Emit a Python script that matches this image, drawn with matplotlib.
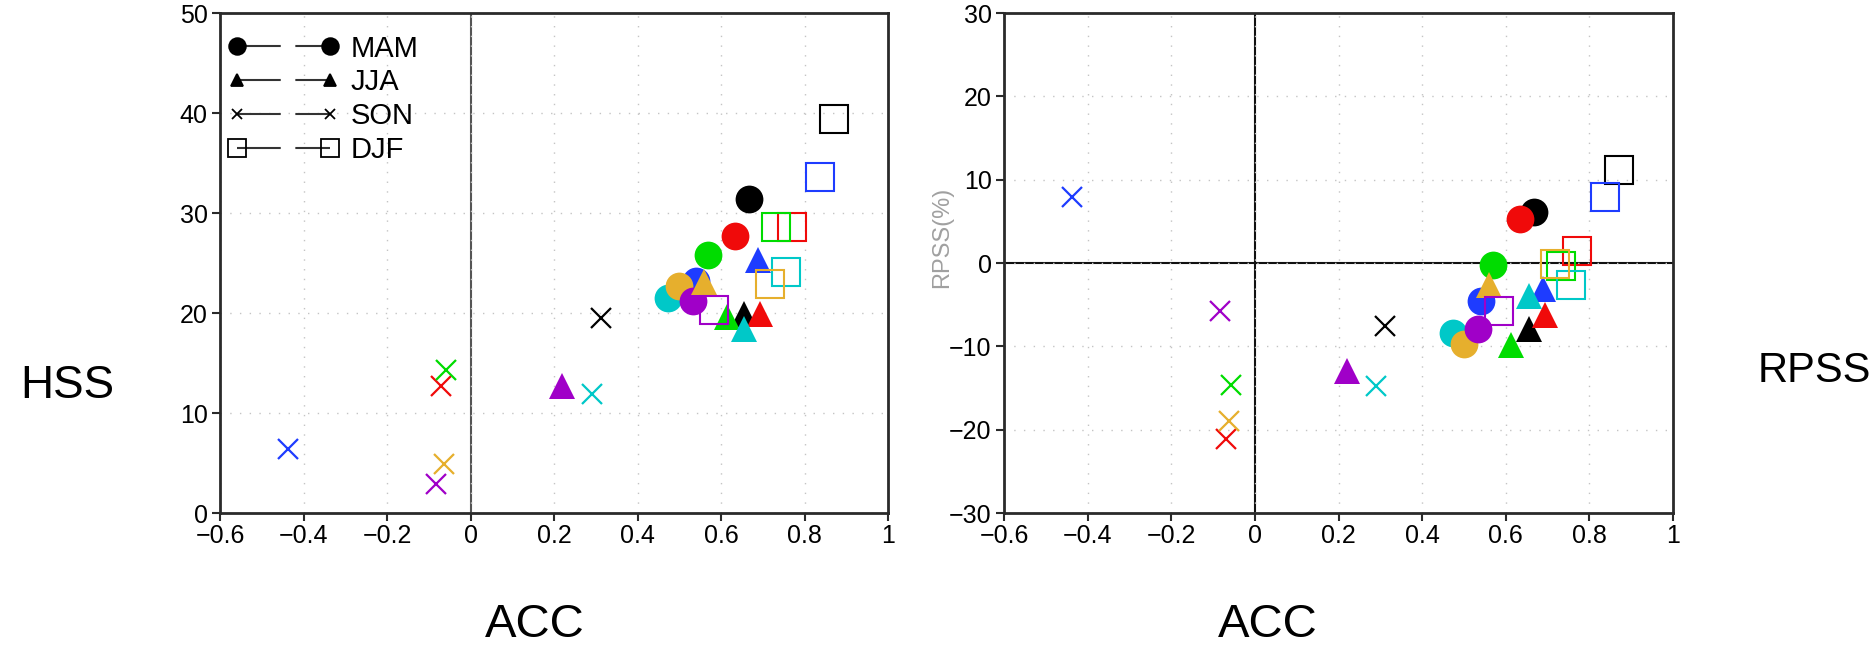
import matplotlib
matplotlib.use('Agg')
import matplotlib.pyplot as plt
from matplotlib.lines import Line2D

plt.rcParams.update({
    'font.family': ['Liberation Sans', 'DejaVu Sans'],
    'axes.unicode_minus': True,
})

# model colours (same order in every array below)
COLORS = ['#000000', '#f00a0a', '#00dc00', '#1e3cff', '#00c8c8', '#e6af2d', '#a000c8']

# ACC per season (shared by both panels)
acc_mam = [0.667, 0.634, 0.569, 0.540, 0.473, 0.500, 0.533]
acc_jja = [0.656, 0.693, 0.613, 0.688, 0.655, 0.560, 0.220]
acc_son = [0.312, -0.070, -0.058, -0.438, 0.290, -0.063, -0.083]
acc_djf = [0.870, 0.770, 0.732, 0.837, 0.755, 0.718, 0.584]

# HSS (left panel)
hss_mam = [31.4, 27.7, 25.8, 23.2, 21.5, 22.7, 21.2]
hss_jja = [19.9, 19.9, 19.6, 25.3, 18.4, 23.1, 12.7]
hss_son = [19.5, 12.7, 14.3, 6.4, 11.9, 4.9, 2.9]
hss_djf = [39.4, 28.6, 28.6, 33.6, 24.1, 22.9, 20.3]

# RPSS (right panel)
rpss_mam = [6.1, 5.3, -0.2, -4.6, -8.4, -9.7, -7.9]
rpss_jja = [-7.9, -6.2, -9.8, -3.1, -4.0, -2.6, -13.0]
rpss_son = [-7.6, -21.1, -14.6, 7.9, -14.7, -18.9, -5.8]
rpss_djf = [11.2, 1.4, -0.3, 7.9, -2.6, -0.1, -5.7]

seasons = ['MAM', 'JJA', 'SON', 'DJF']
xticks = [-0.6, -0.4, -0.2, 0, 0.2, 0.4, 0.6, 0.8, 1]
xticklabels = ['\u22120.6', '\u22120.4', '\u22120.2', '0', '0.2', '0.4', '0.6', '0.8', '1']


def draw_points(ax, accs, vals):
    # circles, triangles, crosses, hollow squares
    for i, c in enumerate(COLORS):
        ax.plot(accs[0][i], vals[0][i], marker='o', ms=20, color=c, mew=0, ls='none', zorder=3)
    for i, c in enumerate(COLORS):
        ax.plot(accs[1][i], vals[1][i], marker='^', ms=18.5, color=c, mew=0, ls='none', zorder=3)
    for i, c in enumerate(COLORS):
        ax.plot(accs[2][i], vals[2][i], marker='x', ms=14.5, color=c, mew=1.6, ls='none', zorder=3)
    for i, c in enumerate(COLORS):
        ax.plot(accs[3][i], vals[3][i], marker='s', ms=20, mfc='none', mec=c, mew=1.5,
                ls='none', zorder=3)


def style_axes(ax, ylim, yticks, yticklabels):
    ax.set_xlim(-0.6, 1)
    ax.set_ylim(*ylim)
    ax.set_xticks(xticks)
    ax.set_xticklabels(xticklabels)
    ax.set_yticks(yticks)
    ax.set_yticklabels(yticklabels)
    ax.grid(True, color='#c4c4c4', lw=1, ls=(0, (1, 6)), zorder=0)
    for s in ax.spines.values():
        s.set_linewidth(2)
        s.set_color('#2a2a2a')
    ax.tick_params(direction='out', length=6, width=1.5, labelsize=18, color='#2a2a2a')
    ax.tick_params(axis='x', pad=2)
    ax.tick_params(axis='y', pad=3)


fig = plt.figure(figsize=(18.76, 6.47), dpi=100)
ax1 = fig.add_axes([0.1173, 0.2071, 0.3561, 0.7728])
ax2 = fig.add_axes([0.5352, 0.2071, 0.3566, 0.7728])

# left: HSS
style_axes(ax1, (0, 50), [0, 10, 20, 30, 40, 50], ['0', '10', '20', '30', '40', '50'])
ax1.axvline(0, color='#555555', lw=1.5, zorder=1)
draw_points(ax1, [acc_mam, acc_jja, acc_son, acc_djf], [hss_mam, hss_jja, hss_son, hss_djf])

# right: RPSS
style_axes(ax2, (-30, 30), [-30, -20, -10, 0, 10, 20, 30],
           ['\u221230', '\u221220', '\u221210', '0', '10', '20', '30'])
ax2.axvline(0, color='#111111', lw=1.5, zorder=1)
ax2.axhline(0, color='#111111', lw=1.5, zorder=1)
draw_points(ax2, [acc_mam, acc_jja, acc_son, acc_djf], [rpss_mam, rpss_jja, rpss_son, rpss_djf])

# season legend (marker - line - gap - line - marker)
leg_markers = [('o', 12, '#000000'), ('^', 8.5, 'k'), ('x', 7, 'k'), ('s', 13, 'none')]
handles = []
for (m, ms, fc), name in zip(leg_markers, seasons):
    # dashes are scaled by the line width (1.5)
    handles.append(Line2D([], [], marker=m, ms=ms, mfc=fc, mec='k', mew=1.3,
                          color='#333333', lw=1.5, dashes=[21, 7], label=name))
ax1.legend(handles=handles, loc='upper left', bbox_to_anchor=(0.012, 0.957), numpoints=2,
           handlelength=3.8, handletextpad=0.4, labelspacing=0.2, borderpad=0,
           borderaxespad=0, frameon=False, fontsize=21)

fig.text(942 / 1876, 1 - 237 / 647, 'RPSS(%)', rotation=90, color='#a0a0a0', fontsize=17,
         ha='center', va='center')

fig.text(67 / 1876, 1 - 386 / 647, 'HSS', fontsize=33, ha='center', va='center')
fig.text(1814 / 1876, 1 - 371 / 647, 'RPSS', fontsize=30, ha='center', va='center')
fig.text(535 / 1876, 1 - 625 / 647, 'ACC', fontsize=34, ha='center', va='center')
fig.text(1268 / 1876, 1 - 625 / 647, 'ACC', fontsize=34, ha='center', va='center')

fig.savefig('out.png', dpi=100)
